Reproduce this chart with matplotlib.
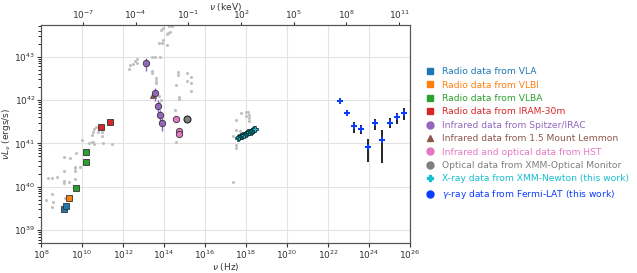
import matplotlib.pyplot as plt
import numpy as np
from matplotlib.lines import Line2D

# log10 of nu (Hz) and nu*L_nu (erg/s)
vla_nu = [9.14, 9.22]
vla_L = [39.48, 39.56]
vlbi_nu = [9.38]
vlbi_L = [39.74]
vlba_nu = [9.69, 10.18, 10.18]
vlba_L = [39.97, 40.58, 40.81]
iram_nu = [10.93, 11.35]
iram_L = [41.38, 41.50]
irac_nu = [13.10, 13.57, 13.71, 13.82, 13.92]
irac_L = [42.85, 42.16, 41.87, 41.65, 41.46]
lemmon_nu = [13.48]
lemmon_L = [42.12]
hst_nu = [14.57, 14.75, 14.75]
hst_L = [41.55, 41.29, 41.21]
om_nu = [15.14]
om_L = [41.55]
xmm_nu = [17.62, 17.68, 17.74, 17.80, 17.86, 17.92, 17.98, 18.04,
          18.10, 18.16, 18.22, 18.28, 18.34, 18.40, 18.44]
xmm_L = [41.13, 41.14, 41.16, 41.18, 41.19, 41.20, 41.22, 41.23,
         41.25, 41.26, 41.27, 41.29, 41.31, 41.32, 41.33]
lat_nu = [22.59, 22.92, 23.27, 23.62, 23.97, 24.31, 24.65, 25.01, 25.37, 25.72]
lat_L = [41.98, 41.70, 41.39, 41.33, 40.92, 41.46, 41.07, 41.48, 41.60, 41.69]
lat_err = [0.05, 0.10, 0.28, 0.25, 0.55, 0.29, 0.70, 0.24, 0.28, 0.30]

# archival points (grey)
arch_nu = [8.24, 8.52, 8.60, 8.55, 8.52, 8.77, 9.14, 9.14, 9.14, 9.14, 9.41, 9.38,
           9.17, 9.69, 9.67, 9.67, 9.67, 9.67, 9.92, 10.01, 10.34, 10.47, 10.55,
           10.59, 10.50, 10.54, 10.60, 10.67, 10.80, 10.96, 10.99, 11.04, 11.48,
           8.33,
           13.84, 13.97, 14.24, 14.37, 14.29, 14.21, 14.13, 13.97, 13.77, 13.89,
           14.13, 13.40, 13.56, 13.80, 12.70, 12.59, 12.47, 12.34, 12.28, 12.67,
           13.43, 13.43, 13.59, 13.59, 13.59, 13.76, 13.84, 13.77, 14.54, 14.70,
           14.70, 14.57, 14.75, 14.75, 15.14, 15.30, 15.11, 15.30, 15.30, 14.57,
           17.38, 17.38, 17.50, 17.50, 17.50, 17.50, 17.74, 17.71, 17.99, 18.08,
           18.15, 18.16, 18.16, 17.99]
arch_L = [39.68, 39.82, 39.65, 39.54, 40.20, 40.22, 40.36, 40.13, 40.08, 40.68, 40.66,
          40.11, 39.73, 40.78, 40.46, 40.42, 40.37, 40.17, 40.45, 41.07, 41.01, 41.03,
          41.04, 40.98, 41.20, 41.26, 41.32, 41.38, 41.27, 41.26, 41.17, 41.01, 40.98,
          40.21,
          43.61, 43.67, 43.70, 43.70, 43.57, 43.54, 43.52, 43.38, 43.31, 43.31,
          43.27, 43.00, 43.00, 43.00, 42.95, 42.89, 42.83, 42.80, 42.71, 42.85,
          42.68, 42.62, 42.50, 42.44, 42.39, 42.10, 42.01, 41.93, 41.78, 42.64,
          42.58, 42.35, 42.07, 42.02, 42.63, 42.53, 42.44, 42.39, 42.20, 41.03,
          40.11, 41.17, 41.53, 41.30, 40.95, 40.89, 41.70, 41.28, 41.72, 41.72,
          41.66, 41.59, 41.51, 41.62]

labels = ["Radio data from VLA", "Radio data from VLBI", "Radio data from VLBA",
          "Radio data from IRAM-30m", "Infrared data from Spitzer/IRAC",
          "Infrared data from 1.5 Mount Lemmon", "Infrared and optical data from HST",
          "Optical data from XMM-Optical Monitor", "X-ray data from XMM-Newton (this work)",
          "$\\gamma$-ray data from Fermi-LAT (this work)"]

def p(a):
    return 10 ** np.array(a)

fig = plt.figure(figsize=(6.37, 2.73), dpi=100)
ax = fig.add_axes([0.0644, 0.110, 0.5792, 0.7985])
ax.set_xscale("log")
ax.set_yscale("log")

ax.plot(p(arch_nu), p(arch_L), "o", color="#c0c0c0", ms=2.2, mec="none", zorder=2)

sq = dict(marker="s", ms=4.6, mec="#333333", mew=0.6, ls="none", zorder=4)
ax.plot(p(vla_nu), p(vla_L), color="tab:blue", **sq)
ax.plot(p(vlbi_nu), p(vlbi_L), color="tab:orange", **sq)
ax.plot(p(vlba_nu), p(vlba_L), color="tab:green", **sq)
ax.plot(p(iram_nu), p(iram_L), color="tab:red", **sq)

ax.errorbar(p(irac_nu), p(irac_L), yerr=0.33 * p(irac_L), fmt="o", color="tab:purple",
            ms=4.6, mec="#333333", mew=0.6, elinewidth=1, zorder=4)
ax.plot(p(lemmon_nu), p(lemmon_L), "^", color="tab:brown", ms=4, mec="#333333", mew=0.5, zorder=3)
ax.plot(p(hst_nu), p(hst_L), "o", color="tab:pink", ms=4.6, mec="#333333", mew=0.6, zorder=4)
ax.plot(p(om_nu), p(om_L), "o", color="tab:gray", ms=5, mec="#222222", mew=0.8, zorder=4)

ax.errorbar(p(xmm_nu), p(xmm_L), xerr=0.08 * p(xmm_nu), yerr=0.08 * p(xmm_L), fmt="P",
            color="tab:cyan", ms=4, mec="black", mew=0.4, ecolor="black", elinewidth=1.4, zorder=4)

lat_x = p(lat_nu)
ax.errorbar(lat_x, p(lat_L), xerr=[lat_x * 0.25, lat_x * 0.33], yerr=np.array(lat_err) * p(lat_L),
            fmt="none", ecolor="black", elinewidth=1.2, zorder=4)
ax.plot(lat_x, p(lat_L), "+", color="#0a3cff", ms=4.5, mew=1.4, zorder=5)

ax.set_xlim(1e8, 1e26)
ax.set_ylim(5e38, 5.4e43)
ax.set_xticks([10.0 ** k for k in range(8, 27, 2)])
ax.grid(True, which="major", color="#e3e3e3", lw=0.8)
ax.set_axisbelow(True)
ax.tick_params(labelsize=6.5, length=3, pad=1, colors="#333333")
ax.tick_params(axis="x", which="minor", length=0)
ax.set_xlabel("$\\nu$ (Hz)", fontsize=6.5, labelpad=0, color="#333333")
ax.set_ylabel("$\\nu L_\\nu$ (ergs/s)", fontsize=6.5, labelpad=1, color="#333333")
for s in ax.spines.values():
    s.set_color("#555555")

h = 4.1357e-15  # eV s
top = ax.twiny()
top.set_xscale("log")
top.set_xlim(1e8 * h / 1e3, 1e26 * h)
top.set_xticks([1e-7, 1e-4, 1e-1, 1e2, 1e5, 1e8, 1e11])
top.tick_params(axis="x", which="minor", length=0)
top.tick_params(labelsize=6.5, length=2.5, pad=0.5, colors="#333333")
top.set_xlabel("$\\nu$ (keV)", fontsize=6.5, color="#333333")
top.xaxis.set_label_coords(0.5, 1.068)
for s in top.spines.values():
    s.set_color("#555555")

colors = ["tab:blue", "tab:orange", "tab:green", "tab:red", "tab:purple",
          "tab:brown", "tab:pink", "tab:gray", "tab:cyan", "#0a3cff"]
markers = ["s", "s", "s", "s", "o", "^", "o", "o", "P", "o"]
handles = [Line2D([], [], ls="none", marker=m, color=c, ms=5) for m, c in zip(markers, colors)]
leg = ax.legend(handles, labels, loc="center left", bbox_to_anchor=(1.02, 0.5), frameon=False,
                fontsize=6.6, handlelength=1, handletextpad=0.8, labelspacing=0.48)
for t, c in zip(leg.get_texts(), colors):
    t.set_color(c)

fig.savefig("out.png", dpi=100)
